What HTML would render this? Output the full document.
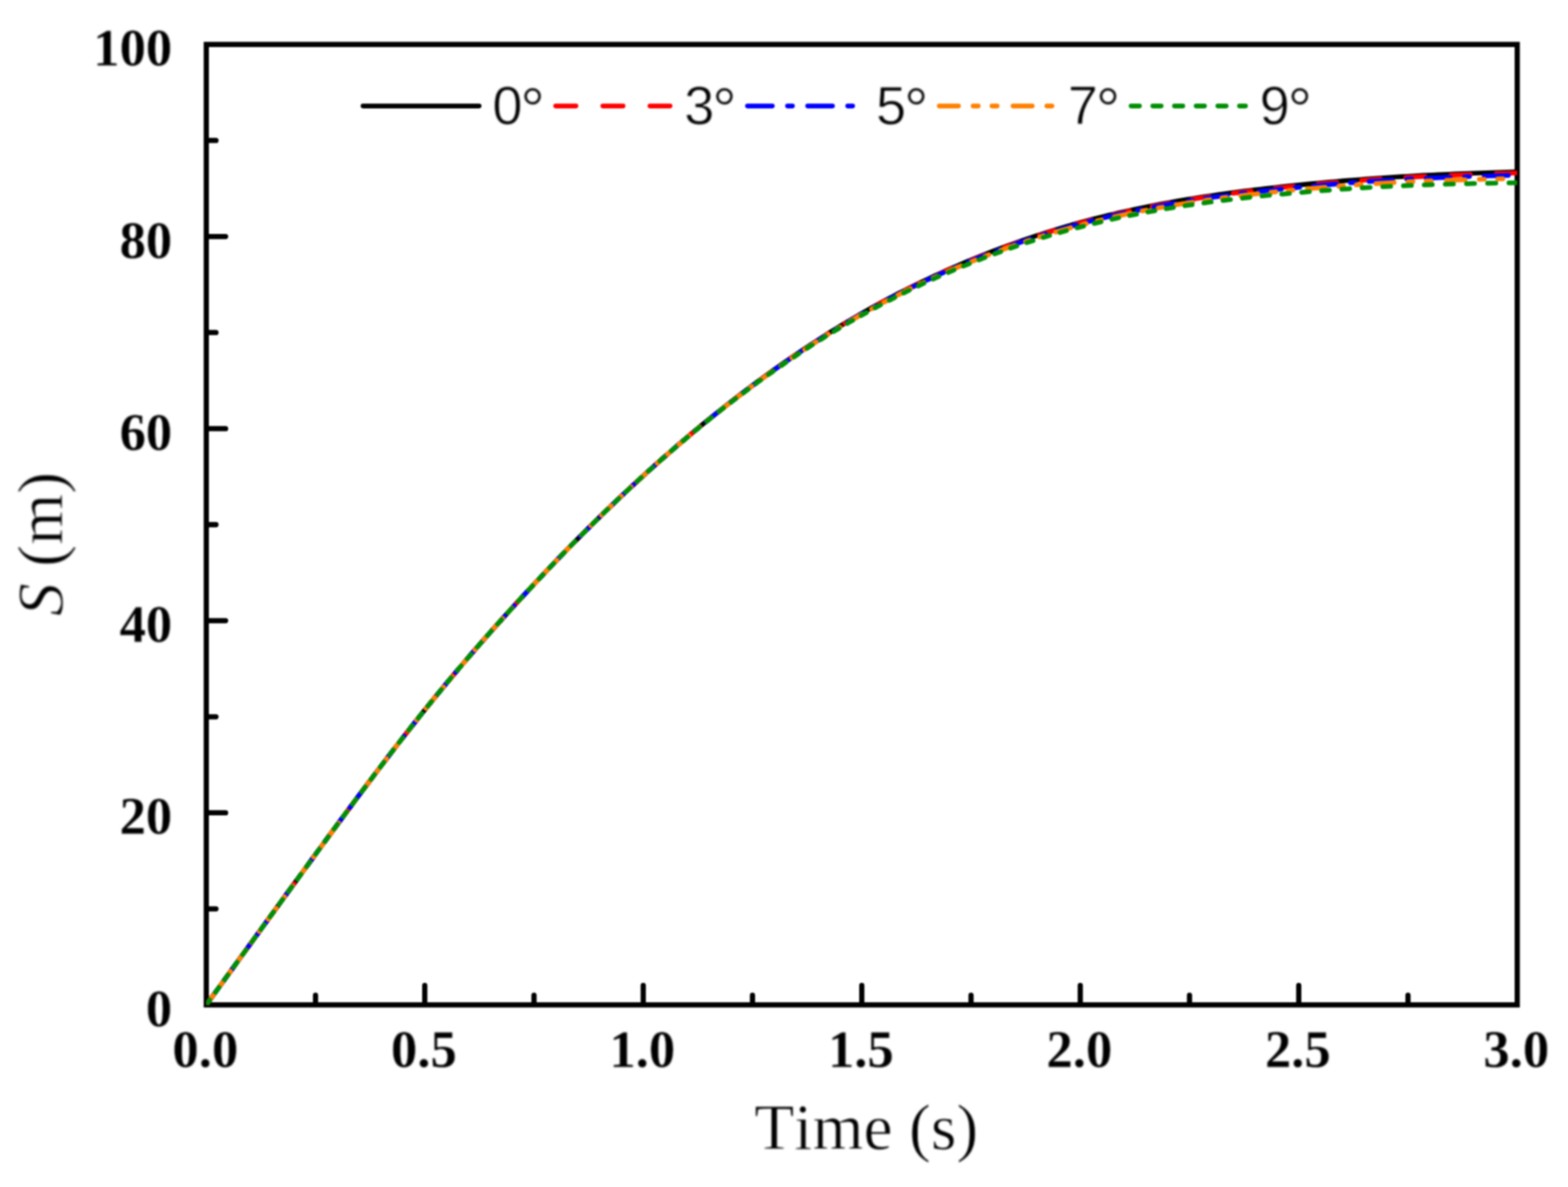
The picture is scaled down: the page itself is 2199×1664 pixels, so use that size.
<!DOCTYPE html>
<html lang="en">
<head>
<meta charset="utf-8">
<title>S (m) vs Time (s)</title>
<style>
html, body { margin: 0; padding: 0; background: #ffffff; }
body { width: 2199px; height: 1664px; overflow: hidden; }
svg { display: block; }
text { stroke: #ffffff; stroke-width: 1px; stroke-linejoin: round; }
.tick { font-family: "Liberation Serif", "DejaVu Serif", serif; font-weight: bold; font-size: 75px; fill: #000; font-kerning: none; }
.tick text { stroke-width: 0.25px; }
.title { font-family: "Liberation Serif", "DejaVu Serif", serif; font-size: 92px; fill: #000; font-kerning: none; }
.leg { font-family: "Liberation Sans", "DejaVu Sans", sans-serif; font-size: 76px; fill: #000; font-kerning: none; }
</style>
</head>
<body>
<svg width="2199" height="1664" viewBox="0 0 2199 1664">
<defs>
<filter id="soft" x="0" y="0" width="2199" height="1664" filterUnits="userSpaceOnUse" color-interpolation-filters="sRGB"><feGaussianBlur stdDeviation="1.0"/></filter>
<filter id="softt" x="0" y="0" width="2199" height="1664" filterUnits="userSpaceOnUse" color-interpolation-filters="sRGB"><feGaussianBlur stdDeviation="1.5"/></filter>
<clipPath id="plot"><rect x="289.3" y="42.3" width="1838.5" height="1366.4"/></clipPath>
</defs>
<rect x="0" y="0" width="2199" height="1664" fill="#ffffff"/>
<g filter="url(#soft)">

<g stroke="#000" stroke-width="7.3" stroke-linecap="round" fill="none">
<path d="M442.5 1406.7 V1395.2 M595.7 1406.7 V1381.5 M748.9 1406.7 V1395.2 M902.1 1406.7 V1381.5 M1055.3 1406.7 V1395.2 M1208.6 1406.7 V1381.5 M1361.8 1406.7 V1395.2 M1515.0 1406.7 V1381.5 M1668.2 1406.7 V1395.2 M1821.4 1406.7 V1381.5 M1974.6 1406.7 V1395.2 M291.3 1274.1 H302.9 M291.3 1139.4 H316.4 M291.3 1004.8 H302.9 M291.3 870.1 H316.4 M291.3 735.5 H302.9 M291.3 600.9 H316.4 M291.3 466.2 H302.9 M291.3 331.6 H316.4 M291.3 196.9 H302.9"/>
</g>
<rect x="289.3" y="62.3" width="1838.5" height="1346.4" fill="none" stroke="#000" stroke-width="7.3" stroke-linejoin="miter"/>
<g clip-path="url(#plot)" fill="none" stroke-width="6.6" stroke-linecap="round" stroke-linejoin="round">
<path stroke="#000000" stroke-linecap="butt" d="M289.3 1408.7 L296.7 1398.5 L304.0 1388.4 L311.4 1378.2 L318.7 1368.0 L326.1 1357.9 L333.4 1347.7 L340.8 1337.5 L348.1 1327.4 L355.5 1317.2 L362.8 1307.1 L370.2 1296.9 L377.5 1286.8 L384.9 1276.7 L392.3 1266.5 L399.6 1256.4 L407.0 1246.3 L414.3 1236.2 L421.7 1226.1 L429.0 1216.1 L436.4 1206.0 L443.7 1195.9 L451.1 1185.9 L458.4 1175.8 L465.8 1165.8 L473.2 1155.8 L480.5 1145.9 L487.9 1135.9 L495.2 1126.0 L502.6 1116.1 L509.9 1106.3 L517.3 1096.5 L524.6 1086.7 L532.0 1077.0 L539.3 1067.4 L546.7 1057.7 L554.0 1048.2 L561.4 1038.7 L568.8 1029.2 L576.1 1019.9 L583.5 1010.6 L590.8 1001.3 L598.2 992.2 L605.5 983.1 L612.9 974.0 L620.2 965.1 L627.6 956.2 L634.9 947.4 L642.3 938.7 L649.6 930.0 L657.0 921.4 L664.4 912.9 L671.7 904.4 L679.1 896.0 L686.4 887.7 L693.8 879.4 L701.1 871.2 L708.5 863.0 L715.8 854.9 L723.2 846.8 L730.5 838.8 L737.9 830.8 L745.2 822.9 L752.6 815.1 L760.0 807.3 L767.3 799.5 L774.7 791.8 L782.0 784.1 L789.4 776.5 L796.7 769.0 L804.1 761.5 L811.4 754.1 L818.8 746.7 L826.1 739.3 L833.5 732.1 L840.9 724.8 L848.2 717.7 L855.6 710.6 L862.9 703.5 L870.3 696.5 L877.6 689.6 L885.0 682.8 L892.3 676.0 L899.7 669.2 L907.0 662.5 L914.4 655.9 L921.7 649.3 L929.1 642.8 L936.5 636.4 L943.8 630.0 L951.2 623.6 L958.5 617.4 L965.9 611.1 L973.2 605.0 L980.6 598.9 L987.9 592.8 L995.3 586.9 L1002.6 581.0 L1010.0 575.1 L1017.3 569.3 L1024.7 563.6 L1032.1 557.9 L1039.4 552.2 L1046.8 546.7 L1054.1 541.2 L1061.5 535.7 L1068.8 530.3 L1076.2 525.0 L1083.5 519.7 L1090.9 514.5 L1098.2 509.3 L1105.6 504.2 L1112.9 499.2 L1120.3 494.2 L1127.7 489.3 L1135.0 484.4 L1142.4 479.7 L1149.7 474.9 L1157.1 470.2 L1164.4 465.6 L1171.8 461.1 L1179.1 456.6 L1186.5 452.2 L1193.8 447.8 L1201.2 443.5 L1208.6 439.2 L1215.9 435.1 L1223.3 431.0 L1230.6 426.9 L1238.0 422.9 L1245.3 419.0 L1252.7 415.1 L1260.0 411.3 L1267.4 407.6 L1274.7 403.9 L1282.1 400.2 L1289.4 396.7 L1296.8 393.1 L1304.2 389.7 L1311.5 386.3 L1318.9 382.9 L1326.2 379.6 L1333.6 376.4 L1340.9 373.2 L1348.3 370.0 L1355.6 366.9 L1363.0 363.9 L1370.3 360.9 L1377.7 357.9 L1385.0 355.0 L1392.4 352.2 L1399.8 349.4 L1407.1 346.6 L1414.5 343.9 L1421.8 341.3 L1429.2 338.7 L1436.5 336.1 L1443.9 333.6 L1451.2 331.2 L1458.6 328.8 L1465.9 326.4 L1473.3 324.1 L1480.6 321.8 L1488.0 319.6 L1495.4 317.5 L1502.7 315.3 L1510.1 313.3 L1517.4 311.2 L1524.8 309.3 L1532.1 307.3 L1539.5 305.4 L1546.8 303.6 L1554.2 301.8 L1561.5 300.1 L1568.9 298.3 L1576.3 296.7 L1583.6 295.1 L1591.0 293.5 L1598.3 291.9 L1605.7 290.4 L1613.0 288.9 L1620.4 287.5 L1627.7 286.1 L1635.1 284.7 L1642.4 283.4 L1649.8 282.1 L1657.1 280.8 L1664.5 279.6 L1671.9 278.4 L1679.2 277.2 L1686.6 276.1 L1693.9 275.0 L1701.3 273.9 L1708.6 272.8 L1716.0 271.8 L1723.3 270.8 L1730.7 269.8 L1738.0 268.8 L1745.4 267.9 L1752.7 267.0 L1760.1 266.1 L1767.5 265.2 L1774.8 264.4 L1782.2 263.5 L1789.5 262.7 L1796.9 261.9 L1804.2 261.1 L1811.6 260.3 L1818.9 259.6 L1826.3 258.9 L1833.6 258.1 L1841.0 257.4 L1848.3 256.7 L1855.7 256.0 L1863.1 255.4 L1870.4 254.7 L1877.8 254.1 L1885.1 253.4 L1892.5 252.8 L1899.8 252.2 L1907.2 251.7 L1914.5 251.1 L1921.9 250.5 L1929.2 250.0 L1936.6 249.5 L1944.0 249.0 L1951.3 248.5 L1958.7 248.0 L1966.0 247.6 L1973.4 247.2 L1980.7 246.7 L1988.1 246.3 L1995.4 245.9 L2002.8 245.6 L2010.1 245.2 L2017.5 244.9 L2024.8 244.5 L2032.2 244.2 L2039.6 243.9 L2046.9 243.6 L2054.3 243.3 L2061.6 243.0 L2069.0 242.8 L2076.3 242.5 L2083.7 242.2 L2091.0 242.0 L2098.4 241.7 L2105.7 241.5 L2113.1 241.2 L2120.4 241.0 L2127.8 240.7"/>
<path stroke="#ff0000" stroke-linecap="round" d="M289.3 1408.7 L290.5 1407.0 L300.3 1393.4 L301.2 1392.2 M317.0 1370.3 L317.5 1369.7 L327.3 1356.2 L329.0 1353.9 M344.8 1332.0 L345.7 1330.8 L355.5 1317.2 L356.7 1315.5 M372.6 1293.7 L372.6 1293.6 L382.5 1280.0 L384.5 1277.2 M400.4 1255.4 L400.8 1254.7 L410.6 1241.3 L412.3 1238.9 M428.2 1217.1 L429.0 1216.1 L438.8 1202.6 L440.2 1200.7 M456.2 1179.0 L457.2 1177.5 L467.0 1164.2 L468.2 1162.6 M484.2 1140.9 L485.4 1139.2 L495.2 1126.0 L496.3 1124.6 M512.4 1103.0 L513.6 1101.4 L523.4 1088.4 L524.6 1086.8 M540.9 1065.4 L541.8 1064.1 L551.6 1051.4 L553.2 1049.3 M569.7 1028.1 L570.0 1027.7 L579.8 1015.2 L582.2 1012.2 M598.9 991.2 L599.4 990.6 L609.2 978.5 L611.6 975.5 M628.7 954.9 L628.8 954.8 L638.6 943.1 L641.7 939.5 M659.0 919.1 L659.5 918.6 L669.3 907.2 L672.2 903.9 M689.8 883.8 L690.1 883.5 L699.9 872.5 L703.2 868.8 M721.1 849.0 L722.0 848.1 L731.8 837.5 L734.7 834.2 M752.9 814.7 L753.8 813.8 L763.6 803.4 L766.7 800.1 M785.2 780.9 L785.7 780.3 L795.5 770.2 L799.2 766.5 M817.9 747.5 L818.8 746.7 L828.6 736.9 L832.2 733.4 M851.2 714.7 L851.9 714.1 L861.7 704.7 L865.7 700.8 M885.2 682.6 L886.2 681.6 L896.0 672.6 L900.0 669.0 M919.8 651.1 L920.5 650.4 L930.3 641.8 L934.9 637.8 M955.1 620.3 L956.1 619.5 L965.9 611.2 L970.5 607.3 M991.2 590.3 L991.6 589.9 L1001.4 582.0 L1006.9 577.6 M1028.0 561.0 L1028.4 560.8 L1038.2 553.3 L1044.2 548.8 M1065.8 532.7 L1066.4 532.2 L1076.2 525.1 L1082.3 520.8 M1104.4 505.2 L1105.6 504.4 L1115.4 497.7 L1121.3 493.7 M1144.1 478.8 L1144.8 478.3 L1154.6 472.0 L1161.4 467.7 M1184.8 453.4 L1185.3 453.1 L1195.1 447.3 L1202.7 442.9 M1226.8 429.3 L1226.9 429.2 L1236.7 423.9 L1245.3 419.4 M1270.1 406.5 L1271.1 406.1 L1280.9 401.2 L1289.2 397.2 M1314.8 385.1 L1315.2 385.0 L1325.0 380.6 L1334.5 376.4 M1361.0 365.2 L1361.8 364.9 L1371.6 360.9 L1381.2 357.0 M1408.6 346.7 L1409.6 346.3 L1419.4 342.7 L1429.2 339.3 L1429.5 339.2 M1457.7 329.7 L1458.6 329.4 L1468.4 326.3 L1478.2 323.2 L1479.3 322.9 M1508.5 314.4 L1508.8 314.3 L1518.6 311.6 L1528.4 309.0 L1530.9 308.4 M1561.1 300.9 L1561.5 300.8 L1571.3 298.6 L1581.2 296.4 L1584.3 295.7 M1615.6 289.3 L1616.7 289.1 L1626.5 287.2 L1636.3 285.4 L1639.5 284.8 M1671.8 279.4 L1671.9 279.3 L1681.7 277.8 L1691.5 276.3 L1696.4 275.6 M1729.5 271.0 L1730.7 270.8 L1740.5 269.6 L1750.3 268.3 L1754.7 267.8 M1788.5 263.9 L1789.5 263.8 L1799.3 262.8 L1809.1 261.8 L1814.2 261.2 M1848.6 257.9 L1849.6 257.8 L1859.4 256.9 L1869.2 256.1 L1874.7 255.6 M1909.6 252.8 L1909.6 252.8 L1919.4 252.1 L1929.2 251.4 L1936.1 250.9 M1971.6 248.7 L1972.1 248.7 L1981.9 248.1 L1991.8 247.6 L1998.6 247.3 M2034.7 245.7 L2035.9 245.6 L2045.7 245.2 L2055.5 244.9 L2062.0 244.6 M2098.5 243.4 L2099.6 243.3 L2109.4 243.0 L2119.2 242.7 L2126.0 242.5"/>
<path stroke="#0000ff" stroke-linecap="round" d="M289.3 1408.7 L290.5 1407.0 L300.3 1393.4 L303.9 1388.5 M312.9 1376.1 L313.8 1374.8 L315.8 1372.1 M324.7 1359.7 L324.8 1359.5 L334.6 1346.0 L339.3 1339.5 M348.3 1327.1 L349.4 1325.7 L351.2 1323.1 M360.2 1310.8 L360.4 1310.5 L370.2 1296.9 L374.8 1290.6 M383.8 1278.2 L384.9 1276.7 L386.7 1274.2 M395.7 1261.9 L395.9 1261.5 L405.7 1248.0 L410.3 1241.7 M419.3 1229.4 L420.4 1227.8 L422.2 1225.4 M431.2 1213.0 L431.5 1212.7 L441.3 1199.3 L445.9 1192.9 M455.0 1180.6 L456.0 1179.2 L457.9 1176.6 M466.9 1164.3 L467.0 1164.2 L476.8 1150.8 L481.7 1144.3 M490.8 1132.0 L491.5 1131.0 L493.7 1128.0 M502.8 1115.8 L503.8 1114.5 L513.6 1101.4 L517.7 1095.9 M526.9 1083.7 L527.1 1083.5 L529.9 1079.8 M539.1 1067.7 L539.3 1067.4 L549.1 1054.5 L554.2 1048.0 M563.5 1036.0 L563.8 1035.5 L566.5 1032.1 M575.9 1020.1 L576.1 1019.9 L585.9 1007.5 L591.3 1000.7 M600.8 988.9 L601.8 987.6 L603.9 985.1 M613.5 973.3 L614.1 972.6 L623.9 960.7 L629.2 954.2 M639.0 942.6 L639.8 941.6 L642.1 938.9 M651.9 927.3 L652.1 927.2 L661.9 915.7 L668.0 908.6 M678.0 897.2 L679.1 896.0 L681.2 893.6 M691.2 882.2 L691.3 882.1 L701.1 871.2 L707.7 863.9 M717.8 852.7 L718.3 852.2 L721.1 849.1 M731.3 837.9 L731.8 837.5 L741.6 826.9 L748.1 819.9 M758.4 808.9 L758.7 808.6 L761.8 805.3 M772.2 794.4 L772.2 794.4 L782.0 784.1 L789.3 776.7 M799.8 765.9 L800.4 765.2 L803.2 762.4 M813.8 751.6 L813.9 751.6 L823.7 741.8 L831.3 734.3 M842.0 723.7 L842.1 723.6 L845.5 720.3 M856.4 709.8 L856.8 709.4 L866.6 700.0 L874.2 692.8 M885.3 682.5 L886.2 681.6 L888.8 679.2 M900.0 669.0 L900.9 668.1 L910.7 659.2 L918.3 652.5 M929.6 642.4 L930.3 641.8 L933.3 639.2 M944.7 629.3 L945.0 629.0 L954.8 620.6 L963.5 613.3 M975.1 603.5 L975.7 603.1 L978.9 600.4 M990.6 590.8 L991.6 590.0 L1001.4 582.1 L1009.9 575.3 M1021.9 566.0 L1022.2 565.7 L1025.8 562.9 M1037.9 553.7 L1038.2 553.5 L1048.0 546.1 L1057.8 538.8 M1070.1 529.8 L1071.3 528.9 L1074.1 526.9 M1086.6 518.0 L1087.2 517.5 L1097.0 510.6 L1106.8 503.9 L1107.1 503.7 M1119.8 495.1 L1120.3 494.7 L1123.9 492.3 M1136.8 483.8 L1137.5 483.4 L1147.3 477.1 L1157.1 470.9 L1158.0 470.2 M1171.2 462.1 L1171.8 461.7 L1175.5 459.5 M1188.9 451.5 L1188.9 451.4 L1198.7 445.7 L1208.6 440.0 L1210.9 438.7 M1224.6 431.1 L1225.7 430.4 L1229.1 428.6 M1243.0 421.2 L1244.1 420.5 L1253.9 415.4 L1263.7 410.4 L1265.9 409.3 M1280.2 402.2 L1280.9 401.9 L1284.8 400.0 M1299.3 393.1 L1300.5 392.5 L1310.3 388.0 L1320.1 383.5 L1323.2 382.2 M1338.0 375.7 L1338.5 375.5 L1342.8 373.6 M1357.9 367.3 L1358.1 367.2 L1367.9 363.2 L1377.7 359.3 L1382.7 357.3 M1398.2 351.4 L1398.5 351.3 L1403.2 349.6 M1418.9 343.9 L1419.4 343.7 L1429.2 340.3 L1439.0 336.9 L1444.8 335.0 M1460.9 329.7 L1461.0 329.7 L1466.1 328.1 M1482.5 323.1 L1483.1 322.9 L1492.9 320.0 L1502.7 317.2 L1509.5 315.3 M1526.4 310.8 L1527.2 310.6 L1531.9 309.4 M1549.0 305.2 L1549.3 305.1 L1559.1 302.8 L1568.9 300.5 L1577.3 298.7 M1594.9 294.9 L1595.9 294.7 L1600.6 293.7 M1618.4 290.2 L1619.1 290.1 L1629.0 288.3 L1638.8 286.5 L1647.9 284.9 M1666.2 281.9 L1666.9 281.8 L1672.2 281.0 M1690.7 278.1 L1691.5 278.0 L1701.3 276.6 L1711.1 275.3 L1720.9 273.9 L1721.3 273.9 M1740.2 271.5 L1740.5 271.4 L1746.4 270.7 M1765.5 268.5 L1766.2 268.4 L1776.0 267.3 L1785.8 266.2 L1795.6 265.2 L1796.9 265.1 M1816.3 263.1 L1816.5 263.1 L1822.6 262.5 M1842.1 260.7 L1842.2 260.7 L1852.0 259.8 L1861.8 259.0 L1871.6 258.1 L1874.1 257.9 M1893.9 256.3 L1894.9 256.3 L1900.3 255.9 M1920.2 254.4 L1920.7 254.4 L1930.5 253.7 L1940.3 253.1 L1950.1 252.5 L1952.9 252.3 M1973.1 251.2 L1973.4 251.2 L1979.7 250.8 M2000.1 249.9 L2000.3 249.8 L2010.1 249.4 L2019.9 249.0 L2029.7 248.6 L2033.5 248.5 M2054.1 247.7 L2054.3 247.7 L2060.8 247.5 M2081.5 246.9 L2082.5 246.8 L2092.3 246.5 L2102.1 246.2 L2111.9 246.0 L2115.3 245.9"/>
<path stroke="#ff8000" stroke-linecap="round" d="M289.3 1408.7 L290.5 1407.0 L300.3 1393.4 L300.6 1393.1 M309.2 1381.2 L310.1 1379.9 L312.2 1377.0 M320.3 1365.8 L321.2 1364.6 L323.3 1361.6 M332.7 1348.7 L333.4 1347.7 L343.2 1334.1 L344.0 1333.1 M352.6 1321.2 L353.0 1320.6 L355.6 1317.0 M363.7 1305.8 L364.1 1305.4 L366.8 1301.7 M376.1 1288.7 L376.3 1288.5 L386.1 1275.0 L387.5 1273.2 M396.1 1261.3 L397.2 1259.8 L399.1 1257.1 M407.2 1245.9 L408.2 1244.6 L410.3 1241.8 M419.7 1228.9 L420.4 1227.8 L430.3 1214.4 L431.0 1213.3 M439.7 1201.5 L440.1 1201.0 L442.7 1197.3 M450.9 1186.2 L451.1 1185.9 L453.9 1182.0 M463.4 1169.2 L464.6 1167.5 L474.4 1154.2 L474.8 1153.7 M483.5 1141.9 L484.2 1140.9 L486.5 1137.7 M494.7 1126.6 L495.2 1126.0 L497.8 1122.5 M507.3 1109.7 L507.5 1109.6 L517.3 1096.5 L518.9 1094.4 M527.7 1082.7 L528.3 1081.9 L530.8 1078.6 M539.1 1067.6 L539.3 1067.4 L542.2 1063.5 M551.9 1050.9 L552.8 1049.8 L562.6 1037.1 L563.7 1035.8 M572.7 1024.3 L573.7 1023.0 L575.8 1020.2 M584.3 1009.4 L584.7 1009.0 L587.5 1005.4 M597.4 993.0 L598.2 992.2 L608.0 980.1 L609.5 978.2 M618.7 966.9 L619.0 966.6 L622.0 963.0 M630.7 952.4 L631.3 951.8 L634.0 948.5 M644.2 936.4 L644.7 935.8 L654.5 924.3 L656.6 921.9 M666.1 910.9 L666.8 910.1 L669.4 907.0 M678.4 896.7 L679.1 896.0 L681.8 892.9 M692.3 881.1 L692.5 880.8 L702.3 869.8 L705.0 866.9 M714.7 856.1 L715.8 854.9 L718.1 852.3 M727.4 842.3 L728.1 841.5 L730.8 838.5 M741.5 826.9 L741.6 826.9 L751.4 816.4 L754.5 813.0 M764.5 802.5 L764.9 802.1 L768.0 798.8 M777.4 788.9 L778.3 788.0 L781.0 785.3 M791.9 773.9 L793.0 772.8 L802.9 762.7 L805.2 760.3 M815.4 750.0 L816.3 749.1 L819.0 746.4 M828.7 736.8 L829.8 735.7 L832.3 733.2 M843.6 722.2 L844.5 721.2 L854.3 711.8 L857.2 708.9 M867.7 698.9 L867.8 698.9 L871.4 695.4 M881.4 686.1 L882.5 685.0 L885.1 682.6 M896.7 671.9 L897.2 671.5 L907.0 662.6 L910.8 659.1 M921.7 649.5 L921.7 649.4 L925.5 646.1 M935.8 637.1 L936.5 636.5 L939.6 633.7 M951.6 623.4 L952.4 622.7 L962.2 614.4 L966.2 611.1 M977.4 601.8 L978.1 601.2 L981.3 598.5 M992.0 589.9 L992.8 589.2 L996.0 586.7 M1008.4 576.8 L1008.8 576.5 L1018.6 568.8 L1023.5 565.0 M1035.1 556.1 L1035.7 555.6 L1039.2 553.0 M1050.2 544.7 L1050.4 544.5 L1054.3 541.6 M1067.2 532.2 L1067.6 531.9 L1077.4 524.9 L1082.9 521.0 M1094.9 512.5 L1095.8 511.9 L1099.2 509.6 M1110.6 501.7 L1111.7 501.0 L1114.9 498.8 M1128.3 489.9 L1128.9 489.5 L1138.7 483.1 L1144.6 479.3 M1157.2 471.4 L1158.3 470.7 L1161.6 468.6 M1173.6 461.3 L1174.2 460.9 L1178.1 458.6 M1192.1 450.3 L1192.6 450.0 L1202.4 444.3 L1209.2 440.5 M1222.3 433.1 L1223.3 432.6 L1227.0 430.6 M1239.5 423.8 L1240.4 423.4 L1244.2 421.3 M1258.9 413.7 L1260.0 413.2 L1269.8 408.3 L1276.9 404.8 M1290.7 398.1 L1291.9 397.6 L1295.6 395.8 M1308.8 389.7 L1309.1 389.6 L1313.8 387.5 M1329.2 380.6 L1329.9 380.4 L1339.7 376.1 L1348.1 372.6 M1362.6 366.6 L1363.0 366.5 L1367.8 364.6 M1381.6 359.1 L1382.6 358.8 L1386.8 357.1 M1403.1 351.1 L1403.4 350.9 L1413.2 347.4 L1422.9 344.0 M1438.2 338.8 L1439.0 338.5 L1443.6 337.0 M1458.2 332.3 L1458.6 332.1 L1463.6 330.5 M1480.7 325.3 L1481.9 325.0 L1491.7 322.2 L1501.5 319.4 L1501.6 319.3 M1517.8 315.0 L1518.6 314.7 L1523.5 313.5 M1538.9 309.6 L1539.5 309.5 L1544.7 308.2 M1562.8 304.0 L1564.0 303.7 L1573.8 301.5 L1583.6 299.4 L1584.9 299.2 M1601.9 295.7 L1602.0 295.7 L1607.9 294.5 M1624.2 291.5 L1625.3 291.3 L1630.3 290.4 M1649.3 287.1 L1649.8 287.0 L1659.6 285.4 L1669.4 283.9 L1672.5 283.4 M1690.4 280.8 L1691.5 280.6 L1696.7 279.9 M1713.7 277.6 L1714.8 277.4 L1720.1 276.8 M1739.9 274.3 L1740.5 274.2 L1750.3 273.1 L1760.1 272.0 L1764.0 271.5 M1782.6 269.6 L1783.4 269.5 L1789.1 268.9 M1806.7 267.2 L1806.7 267.2 L1813.2 266.5 M1833.7 264.7 L1834.9 264.6 L1844.7 263.7 L1854.5 262.9 L1858.5 262.6 M1877.5 261.1 L1877.8 261.0 L1884.1 260.5 M1902.1 259.2 L1902.3 259.2 L1908.9 258.8 M1929.8 257.4 L1930.5 257.4 L1940.3 256.8 L1950.1 256.2 L1955.2 255.9 M1974.7 254.9 L1975.8 254.9 L1981.6 254.6 M2000.1 253.8 L2000.3 253.8 L2007.1 253.6 M2028.6 252.8 L2029.7 252.7 L2039.6 252.4 L2049.4 252.1 L2054.7 252.0 M2074.6 251.4 L2075.1 251.4 L2081.6 251.2 M2100.4 250.7 L2100.8 250.7 L2107.5 250.6"/>
<path stroke="#008f05" stroke-linecap="round" d="M289.3 1408.7 L290.5 1407.0 L294.2 1401.9 M302.1 1391.1 L302.8 1390.1 L307.0 1384.3 M314.8 1373.4 L315.0 1373.1 L319.7 1366.6 M327.6 1355.8 L328.5 1354.5 L332.5 1349.0 M340.3 1338.1 L340.8 1337.5 L345.3 1331.4 M353.1 1320.5 L354.3 1318.9 L358.0 1313.7 M365.9 1302.9 L366.5 1302.0 L370.8 1296.1 M378.7 1285.3 L378.8 1285.1 L383.6 1278.5 M391.5 1267.7 L392.3 1266.5 L396.4 1260.9 M404.2 1250.0 L404.5 1249.7 L409.2 1243.3 M417.1 1232.5 L418.0 1231.2 L422.0 1225.7 M429.9 1214.9 L430.3 1214.4 L434.8 1208.1 M442.7 1197.3 L443.7 1195.9 L447.7 1190.6 M455.6 1179.8 L456.0 1179.2 L460.5 1173.0 M468.4 1162.2 L469.5 1160.8 L473.4 1155.5 M481.3 1144.7 L481.7 1144.2 L486.3 1138.0 M494.3 1127.3 L495.2 1126.0 L499.3 1120.6 M507.3 1109.9 L507.5 1109.6 L512.3 1103.2 M520.3 1092.5 L521.0 1091.6 L525.3 1085.8 M533.4 1075.2 L534.4 1073.8 L538.4 1068.5 M546.5 1057.9 L546.7 1057.7 L551.6 1051.3 M559.8 1040.8 L560.2 1040.3 L564.9 1034.2 M573.1 1023.7 L573.7 1023.0 L578.2 1017.1 M586.5 1006.7 L587.1 1005.9 L591.7 1000.2 M600.0 989.8 L600.6 989.1 L605.3 983.4 M613.7 973.1 L614.1 972.6 L619.0 966.7 M627.4 956.4 L627.6 956.2 L632.7 950.0 M641.3 939.9 L642.3 938.7 L646.7 933.6 M655.3 923.5 L655.8 922.9 L660.7 917.2 M669.3 907.1 L670.5 905.8 L674.8 900.9 M683.5 890.9 L684.0 890.5 L689.0 884.7 M697.8 874.8 L698.7 873.9 L703.4 868.7 M712.2 858.8 L713.4 857.6 L717.8 852.7 M726.7 842.9 L726.9 842.8 L732.3 836.8 M741.3 827.1 L741.6 826.9 L747.0 821.1 M756.0 811.4 L756.3 811.2 L761.7 805.4 M770.8 795.8 L771.0 795.7 L776.5 789.8 M785.7 780.3 L786.9 779.1 L791.5 774.4 M800.7 764.9 L801.6 764.0 L806.5 759.0 M815.8 749.6 L816.3 749.1 L821.7 743.8 M831.1 734.5 L832.3 733.3 L837.0 728.7 M846.4 719.4 L847.0 718.9 L852.4 713.7 M861.9 704.5 L862.9 703.5 L867.9 698.8 M877.5 689.7 L877.6 689.6 L883.6 684.1 M893.3 675.1 L893.6 674.8 L899.4 669.5 M909.2 660.6 L909.5 660.4 L915.4 655.1 M925.3 646.3 L925.4 646.2 L931.5 640.8 M941.5 632.1 L942.6 631.2 L947.8 626.7 M957.9 618.1 L958.5 617.6 L964.3 612.8 M974.5 604.3 L975.7 603.3 L980.9 599.0 M991.3 590.7 L991.6 590.4 L997.7 585.4 M1008.2 577.2 L1008.8 576.7 L1014.7 572.0 M1025.3 563.9 L1025.9 563.4 L1031.9 558.8 M1042.6 550.8 L1043.1 550.4 L1049.3 545.8 M1060.1 537.9 L1060.2 537.7 L1066.8 532.9 M1077.7 525.1 L1078.6 524.5 L1084.6 520.3 M1095.6 512.6 L1095.8 512.5 L1102.5 507.8 M1113.7 500.3 L1114.2 500.0 L1120.7 495.6 M1132.0 488.2 L1132.6 487.8 L1139.1 483.6 M1150.5 476.3 L1150.9 476.1 L1157.7 471.8 M1169.3 464.7 L1169.3 464.7 L1176.6 460.3 M1188.4 453.4 L1188.9 453.0 L1195.8 449.1 M1207.7 442.3 L1208.6 441.8 L1215.2 438.1 M1227.3 431.5 L1228.2 431.0 L1234.9 427.4 M1247.2 421.0 L1247.8 420.7 L1254.9 417.0 M1267.4 410.8 L1267.4 410.8 L1275.2 406.9 M1287.9 400.9 L1288.2 400.7 L1295.8 397.1 M1308.7 391.3 L1309.1 391.1 L1316.7 387.6 M1329.8 382.0 L1329.9 381.9 L1338.0 378.5 M1351.2 373.0 L1352.0 372.7 L1359.5 369.6 M1372.9 364.3 L1374.0 363.9 L1381.3 361.0 M1394.9 355.9 L1396.1 355.5 L1403.5 352.8 M1417.3 347.9 L1418.1 347.6 L1426.0 344.9 M1440.0 340.2 L1440.2 340.2 L1448.9 337.4 M1463.1 332.9 L1463.5 332.8 L1472.1 330.2 M1486.6 326.0 L1486.8 325.9 L1495.7 323.4 M1510.4 319.4 L1511.3 319.2 L1519.7 317.0 M1534.6 313.2 L1535.8 313.0 L1544.1 311.0 M1559.3 307.5 L1560.3 307.3 L1568.9 305.4 M1584.3 302.1 L1584.8 302.0 L1594.1 300.2 M1609.8 297.2 L1610.6 297.0 L1619.7 295.4 M1635.6 292.6 L1636.3 292.5 L1645.6 290.9 M1661.8 288.4 L1662.0 288.3 L1671.9 286.9 L1671.9 286.8 M1688.3 284.5 L1689.0 284.4 L1698.6 283.1 M1715.2 281.0 L1716.0 280.9 L1725.6 279.7 M1742.4 277.8 L1742.9 277.7 L1752.7 276.6 L1752.9 276.6 M1769.8 274.8 L1769.9 274.8 L1779.7 273.8 L1780.5 273.8 M1797.5 272.1 L1798.1 272.1 L1807.9 271.2 L1808.3 271.2 M1825.5 269.7 L1826.3 269.6 L1836.1 268.8 L1836.3 268.8 M1853.6 267.4 L1854.5 267.3 L1864.3 266.6 L1864.4 266.5 M1881.9 265.3 L1882.7 265.2 L1892.5 264.6 L1892.8 264.5 M1910.4 263.4 L1910.9 263.4 L1920.7 262.8 L1921.5 262.8 M1939.2 261.8 L1940.3 261.7 L1950.1 261.2 L1950.3 261.2 M1968.2 260.4 L1968.5 260.4 L1978.3 259.9 L1979.4 259.9 M1997.4 259.2 L1997.9 259.2 L2007.7 258.9 L2008.7 258.8 M2026.9 258.3 L2027.3 258.3 L2037.1 258.0 L2038.3 258.0 M2056.6 257.6 L2056.7 257.6 L2066.5 257.3 L2068.0 257.3 M2086.3 256.9 L2087.4 256.9 L2097.2 256.7 L2097.8 256.7 M2116.2 256.4 L2116.8 256.4 L2126.6 256.2 L2127.7 256.2"/>
</g>
<g fill="none" stroke-width="6.6" stroke-linecap="round">
<path stroke="#000000" d="M509.1 148.6 H671.9"/>
<path stroke="#ff0000" stroke-dasharray="28.4 37.7" d="M779.3 148.6 H939.7"/>
<path stroke="#0000ff" stroke-dasharray="34.8 21.35 6.9 21.35" d="M1048.3 148.6 H1208.7"/>
<path stroke="#ff8000" stroke-dasharray="26.9 20.5 7.2 19.3 7.2 22.3" d="M1317.3 148.6 H1477.7"/>
<path stroke="#008f05" stroke-dasharray="11.7 18.7" d="M1586.3 148.6 H1746.7"/>
</g>
</g>
<g filter="url(#softt)">
<g class="tick" text-anchor="end">
<text transform="translate(241.5 1438.7) scale(0.985 1)">0</text>
<text transform="translate(241.5 1169.4) scale(0.985 1)">20</text>
<text transform="translate(241.5 900.1) scale(0.985 1)">40</text>
<text transform="translate(241.5 630.9) scale(0.985 1)">60</text>
<text transform="translate(241.5 361.6) scale(0.985 1)">80</text>
<text transform="translate(241.5 92.3) scale(0.985 1)">100</text>
</g>
<g class="tick" text-anchor="middle">
<text transform="translate(288.0 1495.8) scale(0.985 1)">0.0</text>
<text transform="translate(594.4 1495.8) scale(0.985 1)">0.5</text>
<text transform="translate(900.8 1495.8) scale(0.985 1)">1.0</text>
<text transform="translate(1207.3 1495.8) scale(0.985 1)">1.5</text>
<text transform="translate(1513.7 1495.8) scale(0.985 1)">2.0</text>
<text transform="translate(1820.1 1495.8) scale(0.985 1)">2.5</text>
<text transform="translate(2126.5 1495.8) scale(0.985 1)">3.0</text>
</g>
<text class="title" text-anchor="middle" x="1214.8" y="1611">Time (s)</text>
<text class="title" text-anchor="middle" transform="translate(87.6 762.5) rotate(-90)"><tspan font-style="italic">S</tspan> (m)</text>
<g class="leg">
<text x="690.5" y="174">0<tspan font-size="86px" dx="-3.0" dy="9.4">°</tspan></text>
<text x="959.5" y="174">3<tspan font-size="86px" dx="-3.0" dy="9.4">°</tspan></text>
<text x="1228.5" y="174">5<tspan font-size="86px" dx="-3.0" dy="9.4">°</tspan></text>
<text x="1497.5" y="174">7<tspan font-size="86px" dx="-3.0" dy="9.4">°</tspan></text>
<text x="1766.5" y="174">9<tspan font-size="86px" dx="-3.0" dy="9.4">°</tspan></text>
</g>
</g>
</svg>
</body>
</html>
